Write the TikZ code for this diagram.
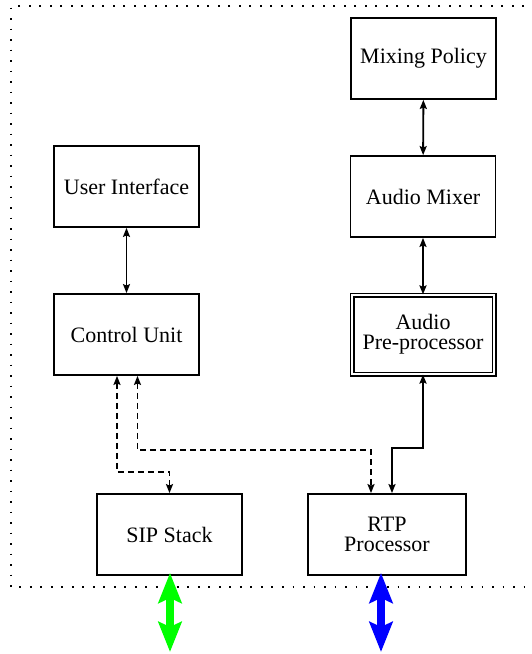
\documentclass[tikz,border=0pt]{standalone}
\usepackage{fontspec}
\setmainfont{Liberation Serif}
\newfontfamily\labelfont{Liberation Serif}
\usetikzlibrary{arrows.meta}
\begin{document}
\begin{tikzpicture}[x=1pt,y=-1pt,
  block/.style={draw,line width=1.8pt,minimum width=145pt,minimum height=81pt,
    align=center,inner sep=2pt,font=\labelfont\fontsize{22}{20}\selectfont},
  dblock/.style={block,line width=1.2pt,double,double distance=2.6pt,
    minimum width=142pt,minimum height=79pt},
  link/.style={line width=1.9pt,{Stealth[length=9pt,width=7pt,inset=1.5pt]}-{Stealth[length=9pt,width=7pt,inset=1.5pt]}},
  dlink/.style={link,dash pattern=on 6pt off 4pt},
  bigarrow/.style={line width=8pt,{Stealth[length=30pt,width=23pt,inset=5pt]}-{Stealth[length=30pt,width=23pt,inset=5pt]}},
  frame/.style={line width=1.6pt,dash pattern=on 1.6pt off 8.9pt}]
\clip (0,0) rectangle (531,654);
\useasboundingbox (0,0) rectangle (531,654);

% outer boundary of the system
\draw[frame] (545,6) -- (11,6) -- (11,587) -- (545,587);

% components
\node[block] (mp)  at (423.5,58.5) {Mixing Policy};
\node[block] (am)  at (423,196.5)  {Audio Mixer};
\node[dblock] (app) at (423,334.5) {Audio\\Pre-processor};
\node[block] (ui)  at (126.5,186.5) {User Interface};
\node[block] (cu)  at (126.5,334.5) {Control Unit};
\node[block] (sip) at (169.5,534.5) {SIP Stack};
\node[block,minimum width=158pt] (rtp) at (387,534.5) {RTP\\Processor};

% control and media paths
\draw[link] (ui) -- (cu);
\draw[link] (mp) -- (am);
\draw[link] (am) -- (app);
\draw[dlink] ([xshift=-9.5pt]cu.south) -- ++(0,96) -| (sip.north);
\draw[dlink] ([xshift=11pt]cu.south) -- ++(0,74) -| ([xshift=-16pt]rtp.north);
\draw[link] (app.south) -- ++(0,73) -| ([xshift=5pt]rtp.north);

% external interfaces
\coordinate (sipout) at (170,652);
\coordinate (rtpout) at (381,652);
\draw[bigarrow,green] ([yshift=3pt]sip.south -| sipout) -- (sipout);
\draw[bigarrow,blue] ([yshift=3pt]rtp.south -| rtpout) -- (rtpout);
\end{tikzpicture}
\end{document}
